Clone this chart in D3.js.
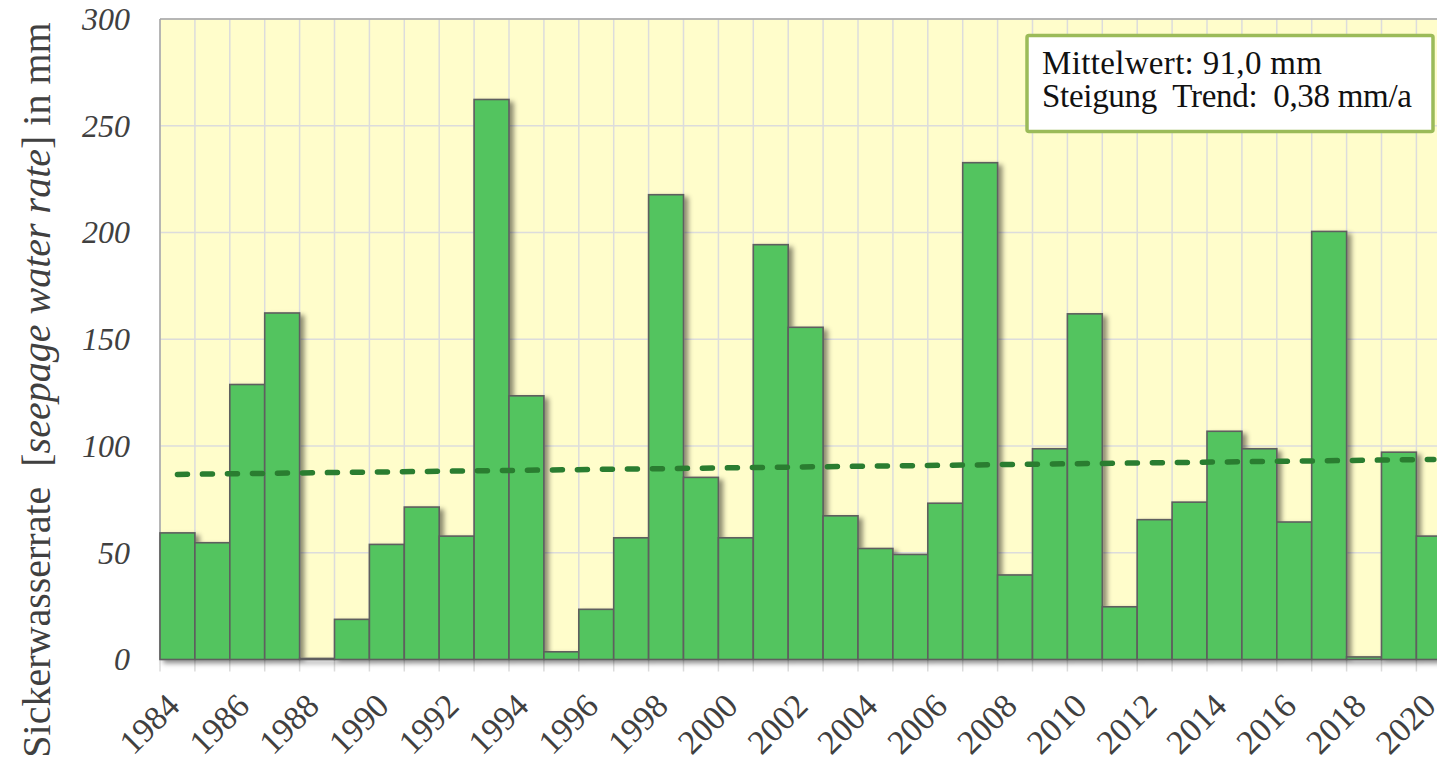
<!DOCTYPE html>
<html><head><meta charset="utf-8">
<script src="https://cdn.jsdelivr.net/npm/d3@7"></script>
<style>
html,body{margin:0;padding:0;background:#fff;overflow:hidden}
svg{display:block}
</style></head><body>
<svg id="chart" width="1437" height="762"></svg>
<script>
// ---- data ----
const years = [1984,1985,1986,1987,1988,1989,1990,1991,1992,1993,1994,1995,1996,1997,1998,1999,2000,2001,2002,2003,2004,2005,2006,2007,2008,2009,2010,2011,2012,2013,2014,2015,2016,2017,2018,2019,2020];
const values = [59.3,54.7,128.8,162.3,0.5,18.8,53.9,71.4,57.8,262.3,123.5,3.6,23.5,57.0,217.7,85.3,57.0,194.3,155.6,67.3,52.0,49.2,73.2,232.7,39.6,98.7,161.9,24.7,65.5,73.7,106.9,98.7,64.4,200.5,1.2,97.1,57.8];
const yTicks = [0,50,100,150,200,250,300];
const xTickLabels = ["1984","1986","1988","1990","1992","1994","1996","1998","2000","2002","2004","2006","2008","2010","2012","2014","2016","2018","2020"];
const trendYears = [1984, 2020];
const trendValues = [86.7, 93.7];
const legendLines = ["Mittelwert: 91,0 mm", "Steigung  Trend:  0,38 mm/a"];
const yLabelParts = ["Sickerwasserrate  [", "seepage water rate", "] in mm"];

// ---- layout ----
(function(){
const serif = "'Liberation Serif','Times New Roman',serif";
const svg = d3.select("#chart");
const pL = 160, pT = 19, pB = 659.5, bw = 34.9;
const pR = pL + bw * years.length;
const x = d3.scaleBand().domain(years.map(String)).range([pL, pR]).padding(0);
const y = d3.scaleLinear().domain([0, 300]).range([pB, pT]);

const defs = svg.append("defs");
const f = defs.append("filter").attr("id","shadow").attr("x","-20%").attr("y","-20%").attr("width","150%").attr("height","150%");
f.append("feDropShadow").attr("dx",4).attr("dy",3).attr("stdDeviation",2.5).attr("flood-color","#000").attr("flood-opacity",0.45);

// plot background
svg.append("rect").attr("x",pL).attr("y",pT).attr("width",pR-pL).attr("height",pB-pT).attr("fill","#FFFDCB");

// horizontal grid
svg.append("g").selectAll("line").data(yTicks).join("line")
  .attr("x1",pL).attr("x2",pR).attr("y1",d=>y(d)).attr("y2",d=>y(d))
  .attr("stroke","#DCDCDC").attr("stroke-width",1.5);

// vertical grid + ticks at category boundaries
const bounds = years.map(d=>x(String(d))).concat([pR]);
svg.append("g").selectAll("line").data(bounds).join("line")
  .attr("x1",d=>d).attr("x2",d=>d).attr("y1",pT).attr("y2",pB+12)
  .attr("stroke","#DCDCDC").attr("stroke-width",1.5);

// border
svg.append("line").attr("x1",pL).attr("x2",pL).attr("y1",pT).attr("y2",pB).attr("stroke","#A6A6A6").attr("stroke-width",1.5);
svg.append("line").attr("x1",pL).attr("x2",pR).attr("y1",pT).attr("y2",pT).attr("stroke","#A6A6A6").attr("stroke-width",1.5);

// bars
svg.append("g").attr("filter","url(#shadow)").selectAll("rect").data(years).join("rect")
  .attr("x",d=>x(String(d)))
  .attr("y",(d,i)=>y(values[i]))
  .attr("width",x.bandwidth())
  .attr("height",(d,i)=>y(0)-y(values[i]))
  .attr("fill","#53C45E").attr("stroke","#5E5E5E").attr("stroke-width",1.6);

// trend line
const line = d3.line().x(d=>x(String(d[0]))+x.bandwidth()/2).y(d=>y(d[1]));
svg.append("path").datum(trendYears.map((d,i)=>[d,trendValues[i]]))
  .attr("d",line).attr("fill","none").attr("stroke","#2A7D30").attr("stroke-width",5.5)
  .attr("stroke-dasharray","10,15").attr("stroke-linecap","round");

// y axis
const yAxis = svg.append("g").attr("transform",`translate(${pL},0)`)
  .call(d3.axisLeft(y).tickValues(yTicks).tickSize(0).tickPadding(30).tickFormat(d3.format("d")));
yAxis.attr("font-family",serif);
yAxis.select(".domain").remove();
yAxis.selectAll("text").style("font-family",serif).style("font-style","italic").style("font-size","32px").attr("fill","#404040");

// x axis
const xAxis = svg.append("g")
  .call(d3.axisBottom(x).tickValues(xTickLabels).tickSize(0));
xAxis.attr("font-family",serif);
xAxis.select(".domain").remove();
xAxis.selectAll("text").attr("x",0).attr("y",0).attr("dy",0)
  .attr("text-anchor","end").attr("transform","translate(4,708) rotate(-45)")
  .style("font-family",serif).style("font-size","34px").attr("fill","#404040");

// y label
const yl = svg.append("text").attr("transform","translate(50,390) rotate(-90)")
  .attr("text-anchor","middle").style("font-family",serif).style("font-size","40px").attr("fill","#404040")
  .attr("xml:space","preserve").style("white-space","pre");
yl.append("tspan").text(yLabelParts[0]);
yl.append("tspan").style("font-style","italic").text(yLabelParts[1]);
yl.append("tspan").text(yLabelParts[2]);

// legend box
svg.append("rect").attr("x",1027).attr("y",35.5).attr("width",406).attr("height",96).attr("rx",2)
  .attr("fill","#fff").attr("stroke","#9BBB59").attr("stroke-width",3.5);
svg.append("g").selectAll("text").data(legendLines).join("text")
  .attr("x",1042).attr("y",(d,i)=>74+i*33)
  .style("font-family",serif).style("font-size","33px").attr("fill","#111")
  .style("white-space","pre").attr("xml:space","preserve")
  .attr("textLength",(d,i)=>i===0?280:370).attr("lengthAdjust","spacing")
  .text(d=>d);
})();
</script>
</body></html>
